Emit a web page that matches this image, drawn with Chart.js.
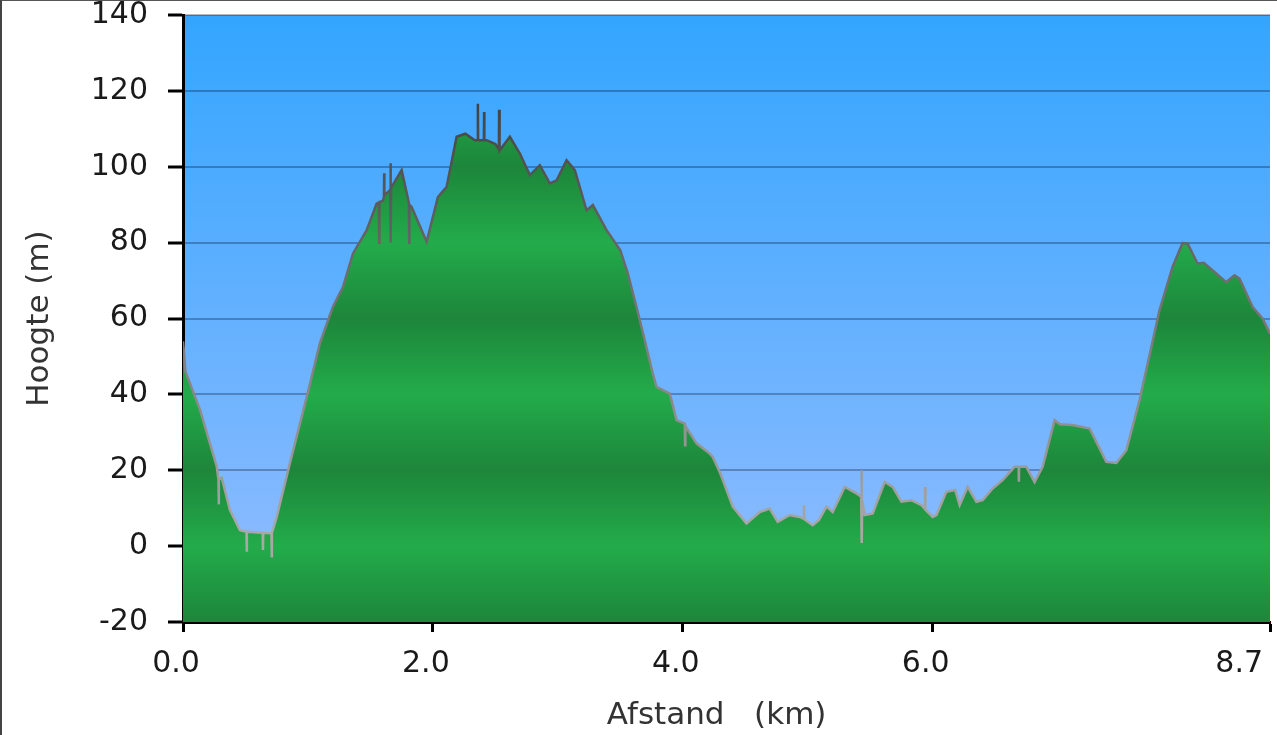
<!DOCTYPE html>
<html>
<head>
<meta charset="utf-8">
<script src="https://cdn.jsdelivr.net/npm/chart.js@4/dist/chart.umd.min.js"></script>
<style>
  html, body { margin: 0; padding: 0; background: #fff; }
  #wrap { position: relative; width: 1277px; height: 735px; }
  #frame { position: absolute; left: 0; top: 0; width: 1277px; height: 735px; box-sizing: border-box;
           border-left: 2px solid #444; border-top: 1px solid #555; pointer-events: none; }
</style>
</head>
<body>
<div id="wrap">
  <canvas id="profile" width="1277" height="735"></canvas>
  <div id="frame"></div>
</div>
<script>
// elevation profile (km / m)
var distance = [
  0.000, 0.020, 0.136, 0.270, 0.284, 0.286, 0.288, 0.310, 0.376, 0.456,
  0.508, 0.510, 0.512, 0.600, 0.638, 0.640, 0.642, 0.696, 0.708, 0.710,
  0.712, 0.750, 0.856, 0.990, 1.096, 1.200, 1.280, 1.360, 1.470, 1.550,
  1.568, 1.570, 1.572, 1.600, 1.608, 1.610, 1.612, 1.656, 1.658, 1.660,
  1.662, 1.664, 1.666, 1.750, 1.808, 1.810, 1.812, 1.830, 1.950, 2.040,
  2.110, 2.190, 2.260, 2.336, 2.358, 2.360, 2.362, 2.408, 2.410, 2.412,
  2.430, 2.500, 2.528, 2.530, 2.532, 2.536, 2.616, 2.696, 2.776, 2.856,
  2.936, 2.990, 3.070, 3.136, 3.230, 3.280, 3.390, 3.500, 3.560, 3.656,
  3.760, 3.790, 3.896, 3.950, 4.016, 4.018, 4.020, 4.022, 4.110, 4.216,
  4.240, 4.300, 4.400, 4.510, 4.616, 4.696, 4.760, 4.856, 4.936, 4.968,
  4.970, 4.972, 5.040, 5.090, 5.150, 5.200, 5.296, 5.390, 5.428, 5.430,
  5.432, 5.434, 5.436, 5.456, 5.520, 5.616, 5.680, 5.750, 5.830, 5.910,
  5.938, 5.940, 5.942, 6.000, 6.030, 6.110, 6.180, 6.216, 6.280, 6.350,
  6.400, 6.480, 6.560, 6.656, 6.688, 6.690, 6.692, 6.750, 6.816, 6.880,
  6.976, 7.020, 7.120, 7.256, 7.390, 7.470, 7.550, 7.656, 7.816, 7.920,
  8.000, 8.040, 8.120, 8.170, 8.350, 8.416, 8.456, 8.560, 8.640, 8.700
];
var elevation = [
  54.0, 46.0, 36.0, 21.0, 17.5, 11.0, 17.5, 18.0, 9.5, 4.2,
  3.8, -1.5, 3.8, 3.6, 3.5, -1.0, 3.5, 3.4, 3.4, -3.0,
  3.4, 7.7, 21.9, 39.3, 53.5, 63.1, 68.3, 77.1, 83.3, 90.3,
  90.5, 80.0, 90.7, 91.0, 92.0, 98.3, 92.5, 93.8, 94.0, 100.9,
  94.0, 80.0, 94.5, 99.1, 90.5, 80.0, 90.0, 89.4, 80.2, 92.0,
  94.7, 107.9, 108.7, 107.0, 107.0, 116.6, 107.0, 107.0, 114.4, 107.0,
  107.0, 106.0, 104.6, 115.0, 104.4, 104.3, 107.9, 103.5, 97.8, 100.4,
  95.6, 96.4, 101.7, 99.1, 88.5, 89.9, 83.3, 78.0, 71.9, 59.6,
  45.5, 42.0, 40.2, 33.2, 32.3, 26.6, 32.0, 31.6, 27.1, 24.4,
  23.5, 19.2, 10.4, 6.0, 9.0, 9.9, 6.4, 8.2, 7.7, 7.2,
  10.8, 7.1, 5.5, 6.9, 10.4, 9.0, 15.6, 13.9, 13.0, 20.0,
  13.0, 0.8, 12.0, 8.2, 8.6, 16.9, 15.6, 11.7, 12.1, 10.8,
  9.8, 15.6, 9.6, 7.7, 8.2, 14.3, 14.8, 10.8, 15.6, 11.7,
  12.1, 15.2, 17.4, 20.9, 20.9, 17.0, 20.9, 20.9, 16.9, 20.9,
  33.2, 32.1, 31.9, 31.0, 22.2, 21.9, 25.3, 38.5, 62.2, 73.6,
  79.9, 79.8, 74.5, 74.7, 69.6, 71.4, 70.5, 63.1, 60.0, 56.0
];
var yTicks = [-20, 0, 20, 40, 60, 80, 100, 120, 140];
var xTicks = [0, 2, 4, 6, 8.7];
var xTickLabels = ["0.0", "2.0", "4.0", "6.0", "8.7"];

var FONT = "'DejaVu Sans', Verdana, sans-serif";
var LIGHT_GREEN = "#23ab4b";
var DARK_GREEN = "#1d863a";

//blue sky behind the plot
var skyPlugin = {
    id: "sky",
    beforeDraw: function (chart) {
        var a = chart.chartArea, ctx = chart.ctx;
        var g = ctx.createLinearGradient(0, a.top, 0, a.bottom);
        g.addColorStop(0, "#33a5ff");
        g.addColorStop(1, "#95bdff");
        ctx.save();
        ctx.fillStyle = g;
        ctx.fillRect(a.left, a.top, a.right - a.left, a.bottom - a.top);
        ctx.restore();
    }
};

//banded green, dark around 20 / 60 / 100, light around 0 / 40 / 80
function groundFill(context) {
    var chart = context.chart, a = chart.chartArea;
    if (!a) return LIGHT_GREEN;
    var y = chart.scales.y;
    var g = chart.ctx.createLinearGradient(0, a.top, 0, a.bottom);
    yTicks.forEach(function (v) {
        var p = (y.getPixelForValue(v) - a.top) / (a.bottom - a.top);
        p = Math.min(1, Math.max(0, p));
        g.addColorStop(p, ((v + 20) % 40 === 0) ? DARK_GREEN : LIGHT_GREEN);
    });
    return g;
}

function outline(context) {
    var chart = context.chart, a = chart.chartArea;
    if (!a) return "#777";
    var g = chart.ctx.createLinearGradient(0, a.top, 0, a.bottom);
    g.addColorStop(0, "#2e2e2e");
    g.addColorStop(0.5, "#777");
    g.addColorStop(0.85, "#a8a8a8");
    return g;
}

var points = distance.map(function (d, i) { return { x: d, y: elevation[i] }; });

var ctx = document.getElementById("profile");
var profileChart = new Chart(ctx, {
    type: "line",
    data: {
        datasets: [{
            data: points,
            fill: "start",
            backgroundColor: groundFill,
            borderColor: outline,
            borderWidth: 2.5,
            pointRadius: 0,
            tension: 0
        }]
    },
    options: {
        responsive: false,
        animation: false,
        events: [],
        layout: { padding: { top: 15, right: 7, bottom: 0, left: 0 } },
        plugins: { legend: { display: false }, tooltip: { enabled: false } },
        scales: {
            x: {
                type: "linear",
                min: 0,
                max: 8.7,
                afterBuildTicks: function (scale) {
                    scale.ticks = xTicks.map(function (v) { return { value: v }; });
                },
                afterFit: function (scale) {
                    scale.height = 113;
                    scale.paddingLeft = 0;
                    scale.paddingRight = 0;
                },
                grid: { drawOnChartArea: false, drawTicks: true, tickLength: 10, tickColor: "#000", tickWidth: 3 },
                border: { color: "#000", width: 3 },
                ticks: {
                    autoSkip: false,
                    maxRotation: 0,
                    padding: 14,
                    labelOffset: -7,
                    color: "#1a1a1a",
                    font: { family: FONT, size: 30 },
                    callback: function (value, index) {
                        // last label sits left of its tick, inside the frame
                        return xTickLabels[index] + (index === xTicks.length - 1 ? "     " : "");
                    }
                },
                title: {
                    display: true,
                    text: "Afstand   (km)  ",
                    color: "#333",
                    font: { family: FONT, size: 31 },
                    padding: { top: 0, bottom: 0 }
                }
            },
            y: {
                min: -20,
                max: 140,
                z: 1,
                afterBuildTicks: function (scale) {
                    scale.ticks = yTicks.map(function (v) { return { value: v }; });
                },
                afterFit: function (scale) {
                    scale.width = 183;
                    scale.paddingTop = 0;
                    scale.paddingBottom = 0;
                },
                grid: { color: "rgba(0, 0, 30, 0.28)", lineWidth: 2, tickLength: 15, tickColor: "#000", tickWidth: 3 },
                border: { color: "#000", width: 3 },
                ticks: {
                    padding: 20,
                    color: "#1a1a1a",
                    font: { family: FONT, size: 30 }
                },
                title: {
                    display: true,
                    text: "Hoogte (m)",
                    color: "#333",
                    font: { family: FONT, size: 31 },
                    padding: { top: 21, bottom: 0 }
                }
            }
        }
    },
    plugins: [skyPlugin]
});
</script>
</body>
</html>
